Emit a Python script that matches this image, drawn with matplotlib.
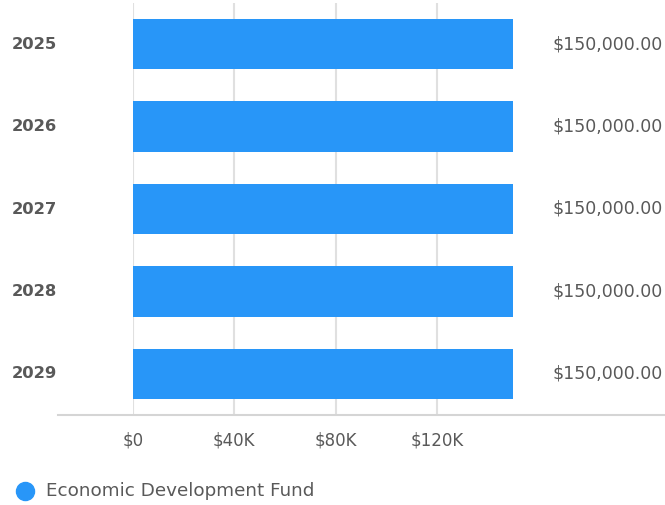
import matplotlib.pyplot as plt
import matplotlib.transforms as mtransforms
from matplotlib.lines import Line2D

# Data
years = ['2025', '2026', '2027', '2028', '2029']
funding = [150000, 150000, 150000, 150000, 150000]
tick_values = [0, 40000, 80000, 120000]
tick_labels = ['$0', '$40K', '$80K', '$120K']
series_name = 'Economic Development Fund'

bar_color = '#2896f8'
text_color = '#595959'
plt.rcParams['font.family'] = ['DejaVu Sans']

W, H = 665, 505
fig = plt.figure(figsize=(W / 100, H / 100), dpi=100)
fig.patch.set_facecolor('white')

# Axes: zero at x=133px, top at 3px, bottom at 415px
left, right = 133, 665
ax = fig.add_axes([left / W, (H - 415) / H, (right - left) / W, (415 - 3) / H])
xmax = 150000 * (right - left) / (513 - left)
ax.set_xlim(0, xmax)

ypos = list(range(len(years)))
ax.barh(ypos, funding, height=0.61, color=bar_color, zorder=3)
ax.set_ylim(len(years) - 0.5, -0.5)

ax.set_xticks(tick_values)
ax.set_xticklabels(tick_labels, fontsize=12, color=text_color)
ax.set_yticks(ypos)
ax.set_yticklabels([])
ax.tick_params(axis='both', length=0)
ax.tick_params(axis='x', pad=12)

ax.grid(axis='x', color='#e0e0e0', linewidth=1.5, zorder=0)
ax.grid(axis='y', visible=False)
for s in ax.spines.values():
    s.set_visible(False)

trans = mtransforms.blended_transform_factory(fig.transFigure, ax.transData)

# year labels at left edge
for y, yr in zip(ypos, years):
    ax.text(12 / W, y, yr, transform=trans, ha='left', va='center',
            fontsize=11.8, color=text_color, fontweight='bold')

# value labels at right edge
for y, v in zip(ypos, funding):
    ax.text(663 / W, y, '${:,.2f}'.format(v), transform=trans,
            ha='right', va='center', fontsize=12.5, color=text_color)

# bottom baseline
fig.add_artist(Line2D([58 / W, 1.0], [(H - 415) / H] * 2, color='#d5d5d5', linewidth=1.5))

# legend
fig.add_artist(Line2D([25 / W], [(H - 491) / H], marker='o', markersize=13,
                      color=bar_color, linestyle='none'))
fig.text(46 / W, (H - 491) / H, series_name, ha='left', va='center',
         fontsize=13.2, color=text_color)

fig.savefig('out.png', dpi=100)
